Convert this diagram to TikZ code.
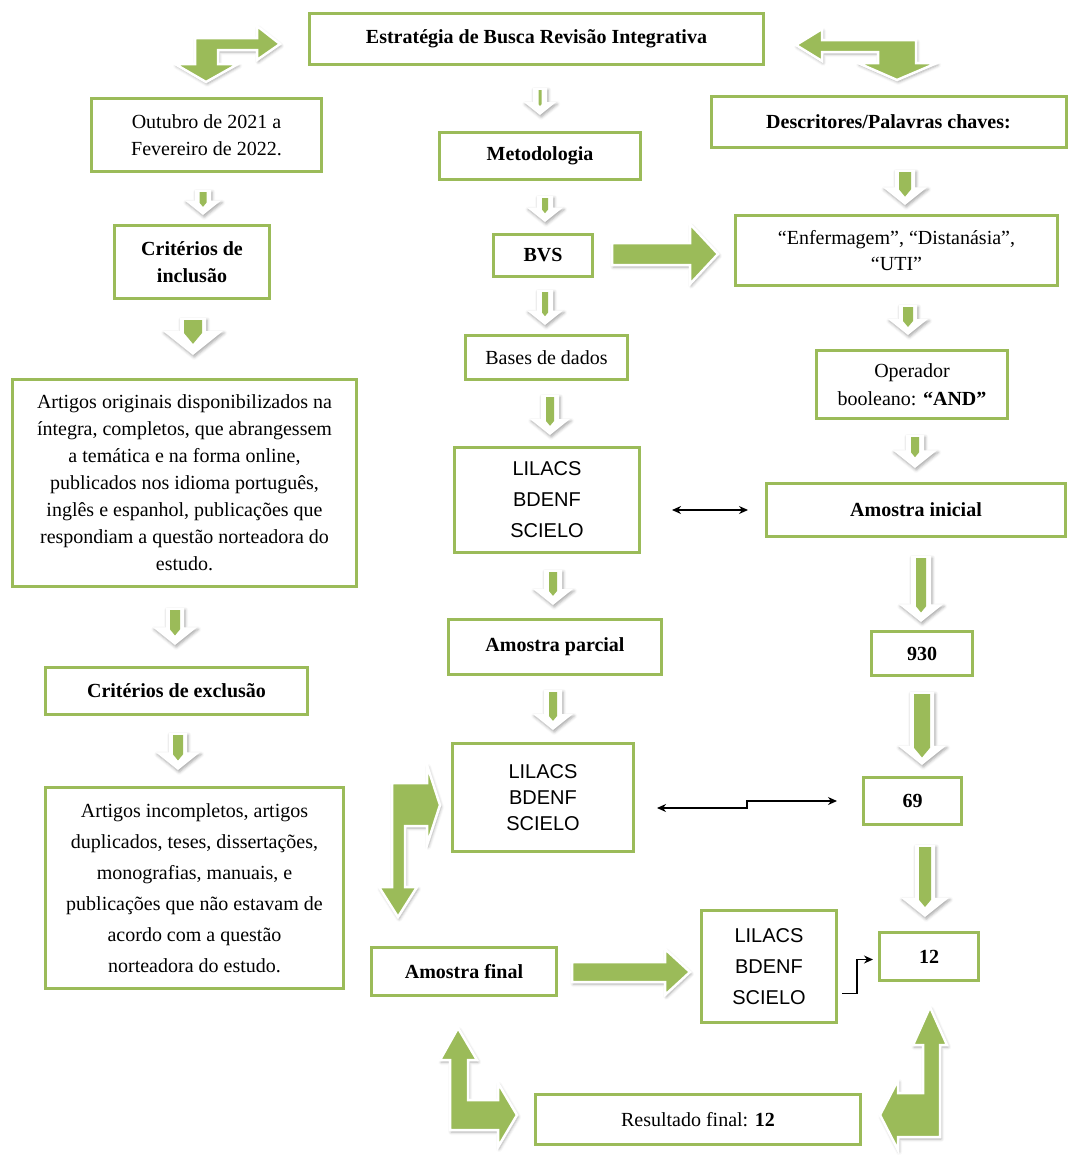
\documentclass[tikz,border=0pt]{standalone}
\usepackage{fontspec}
\setmainfont{Liberation Serif}
\newfontfamily\lilfont{Liberation Sans}
\usetikzlibrary{arrows.meta,calc,shadows.blur}
\definecolor{boxgreen}{RGB}{155,187,89}
\definecolor{arrgreen}{RGB}{155,187,89}
\newdimen\arrYa
\newdimen\arrYb
\newdimen\arrXa
\newdimen\arrXb
\tikzset{
  box/.style={draw=boxgreen, line width=3pt, fill=white, align=center, inner sep=2pt,
    font=\fontsize{20}{27}\selectfont},
  bbox/.style={box, font=\fontsize{20}{27}\selectfont\bfseries},
  lbox/.style={box, font=\fontsize{20}{31}\selectfont\lilfont},
  softshadow/.style={blur shadow={shadow xshift=1.2pt, shadow yshift=-2pt, shadow blur radius=3pt, shadow opacity=35}},
  whitearrow/.style={fill=white, softshadow},
  bentarrow/.style={fill=arrgreen, draw=white, line width=2.5pt, line join=miter, softshadow},
  conn/.style={draw=black, line width=1.4pt, {Stealth[length=9pt,width=8pt]}-{Stealth[length=9pt,width=8pt]}},
  conn1/.style={draw=black, line width=1.4pt, -{Stealth[length=9pt,width=8pt]}},
}
% small down arrow: #1 upper node, #2 lower node, #3 x, #4 top gap, #5 bottom gap,
% #6 green half width, #7 outline half width, #8 head half width
\newcommand\sdown[8]{%
  \pgfextracty{\arrYa}{\pgfpointanchor{#1}{south}}%
  \pgfextracty{\arrYb}{\pgfpointanchor{#2}{north}}%
  \pgfmathsetmacro\yT{-\arrYa+#4}%
  \pgfmathsetmacro\yB{-\arrYb-#5}%
  \pgfmathsetmacro\yH{\yB-0.8*#8}%
  \fill[whitearrow] (#3-#7,\yT) -- (#3+#7,\yT) -- (#3+#7,\yH) -- (#3+#8,\yH) -- (#3,\yB)
     -- (#3-#8,\yH) -- (#3-#7,\yH) -- cycle;
  \fill[arrgreen] (#3-#6,\yT+2) -- (#3+#6,\yT+2) -- (#3+#6,\yH+2) -- (#3,\yH+2+1.2*#6)
     -- (#3-#6,\yH+2) -- cycle;
}
% big right arrow: #1 left node, #2 right node, #3 y, #4 left gap, #5 right gap,
% #6 shaft half, #7 head half, #8 head length
\newcommand\bright[8]{%
  \pgfextractx{\arrXa}{\pgfpointanchor{#1}{east}}%
  \pgfextractx{\arrXb}{\pgfpointanchor{#2}{west}}%
  \pgfmathsetmacro\xL{\arrXa+#4}%
  \pgfmathsetmacro\xR{\arrXb-#5}%
  \pgfmathsetmacro\xH{\xR-#8}%
  \filldraw[bentarrow] (\xL,#3-#6) -- (\xH,#3-#6) -- (\xH,#3-#7) -- (\xR,#3) -- (\xH,#3+#7)
     -- (\xH,#3+#6) -- (\xL,#3+#6) -- cycle;
}
\begin{document}
\begin{tikzpicture}[x=1pt,y=-1pt]
\useasboundingbox (0,0) rectangle (1070,1162);

% nodes
\node[bbox, minimum width=454pt, minimum height=51pt] (title) at (536.5,39) {Estratégia de Busca Revisão Integrativa};
\node[box, minimum width=230pt, minimum height=73pt] (outubro) at (206.5,135) {Outubro de 2021 a\\Fevereiro de 2022.};
\node[bbox, minimum width=201pt, minimum height=47pt] (metod) at (540,156) {Metodologia};
\node[bbox, minimum width=355pt, minimum height=51pt] (descr) at (888.5,122) {Descritores/Palavras chaves:};
\node[bbox, minimum width=155pt, minimum height=73pt] (incl) at (192,262) {Critérios de\\inclusão};
\node[bbox, minimum width=99pt, minimum height=42pt] (bvs) at (543,255.5) {BVS};
\node[box, minimum width=322pt, minimum height=70pt, font=\fontsize{20}{26}\selectfont] (enf) at (896.5,250.5) {“Enfermagem”, “Distanásia”,\\“UTI”};
\node[box, minimum width=162pt, minimum height=44pt] (bases) at (546.5,357.5) {Bases de dados};
\node[box, minimum width=191pt, minimum height=68pt, font=\fontsize{20}{28}\selectfont] (oper) at (912,384.5) {Operador\\booleano: \textbf{“AND”}};
\node[box, minimum width=344pt, minimum height=207pt] (artigos) at (184.5,483) {Artigos originais disponibilizados na\\íntegra, completos, que abrangessem\\a temática e na forma online,\\publicados nos idioma português,\\inglês e espanhol, publicações que\\respondiam a questão norteadora do\\estudo.};
\node[lbox, minimum width=185pt, minimum height=105pt] (lil1) at (547,500) {LILACS\\BDENF\\SCIELO};
\node[bbox, minimum width=299pt, minimum height=53pt] (inicial) at (916,510) {Amostra inicial};
\node[bbox, minimum width=213pt, minimum height=55pt] (parcial) at (555,647) {Amostra parcial};
\node[bbox, minimum width=101pt, minimum height=44pt] (n930) at (922,653.5) {930};
\node[bbox, minimum width=262pt, minimum height=47pt] (excl) at (176.5,691) {Critérios de exclusão};
\node[lbox, minimum width=181pt, minimum height=108pt, font=\fontsize{20}{26}\selectfont\lilfont] (lil2) at (543,797.5) {LILACS\\BDENF\\SCIELO};
\node[bbox, minimum width=98pt, minimum height=47pt] (n69) at (912.5,801) {69};
\node[box, minimum width=298pt, minimum height=201pt, font=\fontsize{20}{31}\selectfont] (incomp) at (194.5,888) {Artigos incompletos, artigos\\duplicados, teses, dissertações,\\monografias, manuais, e\\publicações que não estavam de\\acordo com a questão\\norteadora do estudo.};
\node[bbox, minimum width=185pt, minimum height=48pt] (final) at (464,971.5) {Amostra final};
\node[lbox, minimum width=135pt, minimum height=112pt] (lil3) at (769,966.5) {LILACS\\BDENF\\SCIELO};
\node[bbox, minimum width=99pt, minimum height=48pt] (n12) at (929,956.5) {12};
\node[box, minimum width=325pt, minimum height=50pt] (result) at (698,1119.5) {Resultado final: \textbf{12}};

% small down arrows
\sdown{outubro}{incl}{203}{17}{9}{3.5}{8}{18}
\sdown{incl}{artigos}{193}{18}{23}{9}{13}{30}
\sdown{artigos}{excl}{175}{20}{21}{5}{9}{22}
\sdown{excl}{incomp}{178}{17}{16}{5}{9}{22}
\sdown{title}{metod}{540}{22}{16}{1.5}{7}{16}
\sdown{metod}{bvs}{545}{15}{11}{3}{8}{18}
\sdown{bvs}{bases}{545}{12}{9}{3}{8}{18}
\sdown{bases}{lil1}{550}{14}{11}{4}{9}{20}
\sdown{lil1}{parcial}{553}{16}{13}{4}{9}{20}
\sdown{parcial}{lil2}{553}{14}{12}{4}{9}{20}
\sdown{descr}{enf}{905}{21}{9}{6}{10}{22}
\sdown{enf}{oper}{908}{18}{14}{5}{9}{20}
\sdown{oper}{inicial}{915}{15}{14}{4}{9}{22}
\sdown{inicial}{n930}{921}{18}{8}{5}{10}{22}
\sdown{n930}{n69}{922}{15}{11}{8}{12}{24}
\sdown{n69}{n12}{925}{19}{14}{6}{10}{24}

% big right arrows
\bright{bvs}{enf}{254}{18}{16}{11}{30}{28}
\bright{final}{lil3}{972}{14}{10}{10}{23}{25}

% bent arrows
\filldraw[bentarrow] (195,38) -- (257,38) -- (257,26) -- (280,44) -- (257,60) -- (257,50) -- (218,50)
  -- (218,64) -- (238,64) -- (206,82) -- (175,64) -- (195,64) -- cycle;
\filldraw[bentarrow] (916,40) -- (822,40) -- (822,29) -- (796,45) -- (822,61) -- (822,52) -- (878,52)
  -- (878,63) -- (858,63) -- (897,80) -- (937,63) -- (916,63) -- cycle;
\filldraw[bentarrow] (392,783) -- (427,783) -- (427,765) -- (440,805) -- (427,845) -- (427,826)
  -- (405,826) -- (405,887) -- (417,887) -- (398,917) -- (379,887) -- (392,887) -- cycle;
\filldraw[bentarrow] (458,1028) -- (477,1060) -- (468,1060) -- (468,1100) -- (498,1100) -- (498,1083)
  -- (517,1115) -- (498,1147) -- (498,1130) -- (450,1130) -- (450,1060) -- (440,1060) -- cycle;
\filldraw[bentarrow] (930,1007) -- (947,1045) -- (940,1045) -- (940,1137) -- (898,1137) -- (898,1150)
  -- (880,1115) -- (898,1080) -- (898,1093) -- (923,1093) -- (923,1045) -- (913,1045) -- cycle;

% thin black connectors
\draw[conn] ($(lil1.east|-inicial.west)+(31,0)$) -- ($(inicial.west)+(-17,0)$);
\draw[conn] ($(lil2.east)+(22,10.5)$) -- ++(90,0) |- ($(n69.west)+(-25,0)$);
\draw[conn1] ($(lil3.east)+(4,27)$) -- ++(15,0) |- ($(n12.west)+(-5,3)$);
\end{tikzpicture}
\end{document}
